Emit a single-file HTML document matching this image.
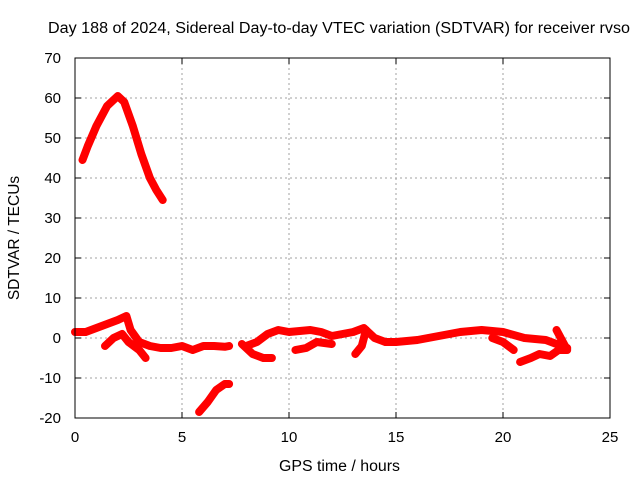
<!DOCTYPE html>
<html><head><meta charset="utf-8"><style>
html,body{margin:0;padding:0;background:#fff}
svg{display:block;font-family:"Liberation Sans",sans-serif}
</style></head><body>
<svg id="c" width="640" height="480" viewBox="0 0 640 480">
<rect width="640" height="480" fill="#fff"/>
<text x="48" y="33" font-size="15.5" textLength="582" lengthAdjust="spacingAndGlyphs">Day 188 of 2024, Sidereal Day-to-day VTEC variation (SDTVAR) for receiver rvso</text>
<g id="grid"></g>
<g id="series"></g>
<rect x="75" y="58" width="535" height="360" fill="none" stroke="#000" stroke-width="1"/>
<g id="ticks"></g>
<text x="279" y="471" font-size="15.5" textLength="121" lengthAdjust="spacingAndGlyphs">GPS time / hours</text>
<text transform="translate(19,238) rotate(-90)" text-anchor="middle" font-size="15.5">SDTVAR / TECUs</text>
</svg>
<script>
const xTicks=[0,5,10,15,20,25];
const yTicks=[-20,-10,0,10,20,30,40,50,60,70];
const segPeakX=[0.35,0.6,1,1.5,2,2.3,2.7,3.1,3.5,3.8,4.1];
const segPeakY=[44.5,48,53,58,60.5,59,53,46,40,37,34.5];
const segMainX=[0,0.5,1,1.5,2,2.4,2.6,3,3.5,4,4.5,5,5.5,6,6.5,7,7.2];
const segMainY=[1.5,1.5,2.5,3.5,4.5,5.5,2,-1,-2,-2.5,-2.5,-2,-3,-2,-2,-2.2,-2];
const segLowX=[1.4,1.8,2.2,2.5,3,3.3];
const segLowY=[-2,0,1,-1,-3,-5];
const segDipX=[5.8,6.2,6.6,7,7.2];
const segDipY=[-18.5,-16,-13,-11.5,-11.5];
const segLongX=[8,8.5,9,9.5,10,11,11.5,12,12.5,13,13.5,14,14.5,15,16,17,18,19,20,21,22,22.5,23];
const segLongY=[-2,-1,1,2,1.5,2,1.5,0.5,1,1.5,2.5,0,-1,-1,-0.5,0.5,1.5,2,1.5,0,-0.5,-1.5,-2.5];
const segFX=[7.8,8.3,8.8,9.2];
const segFY=[-1.5,-4,-5,-5];
const segGX=[10.3,10.8,11.3,12];
const segGY=[-3,-2.5,-1,-1.5];
const segHX=[13.1,13.4,13.6];
const segHY=[-4,-2,2];
const segIX=[19.5,20,20.5];
const segIY=[0,-1,-3];
const segJX=[20.8,21.3,21.7,22.2,22.6,23,22.8,22.5];
const segJY=[-6,-5,-4,-4.5,-3,-3,-1,2];
const segments=[[segPeakX,segPeakY],[segMainX,segMainY],[segLowX,segLowY],[segDipX,segDipY],[segLongX,segLongY],[segFX,segFY],[segGX,segGY],[segHX,segHY],[segIX,segIY],[segJX,segJY]];
const NS="http://www.w3.org/2000/svg";
const X0=75,X1=610,Y0=418,Y1=58;
function sx(v){return X0+(v-0)/(25-0)*(X1-X0);}
function sy(v){return Y0-(v+20)/90*(Y0-Y1);}
const grid=document.getElementById('grid'),ticks=document.getElementById('ticks'),ser=document.getElementById('series');
function mk(tag,attrs,parent){const e=document.createElementNS(NS,tag);for(const k in attrs)e.setAttribute(k,attrs[k]);parent.appendChild(e);return e;}
xTicks.forEach(t=>{
  const x=sx(t);
  if(t>0&&t<25){const g=mk('line',{x1:x,x2:x,y1:Y1,y2:Y0,stroke:'#a0a0a0','stroke-dasharray':'2,3'},grid);
  
  }
  mk('line',{x1:x,x2:x,y1:Y0,y2:Y0-6,stroke:'#000'},ticks);
  mk('line',{x1:x,x2:x,y1:Y1,y2:Y1+6,stroke:'#000'},ticks);
  const l=mk('text',{x:x,y:Y0+24,'text-anchor':'middle','font-size':'15'},ticks);l.textContent=t;
  
  
});
yTicks.forEach(t=>{
  const y=sy(t);
  if(t>-20&&t<70){const g=mk('line',{x1:X0,x2:X1,y1:y,y2:y,stroke:'#a0a0a0','stroke-dasharray':'2,3'},grid);
  
  }
  mk('line',{x1:X0,x2:X0+6,y1:y,y2:y,stroke:'#000'},ticks);
  mk('line',{x1:X1,x2:X1-6,y1:y,y2:y,stroke:'#000'},ticks);
  const l=mk('text',{x:X0-14,y:y+5,'text-anchor':'end','font-size':'15'},ticks);l.textContent=t;
  
  
});
segments.forEach(([xs,ys])=>{
  const pts=xs.map((v,i)=>sx(v).toFixed(1)+','+sy(ys[i]).toFixed(1)).join(' ');
  const p=mk('polyline',{points:pts,fill:'none',stroke:'#ff0000','stroke-width':8,'stroke-linejoin':'round','stroke-linecap':'round'},ser);
  
  
});
</script>
</body></html>
